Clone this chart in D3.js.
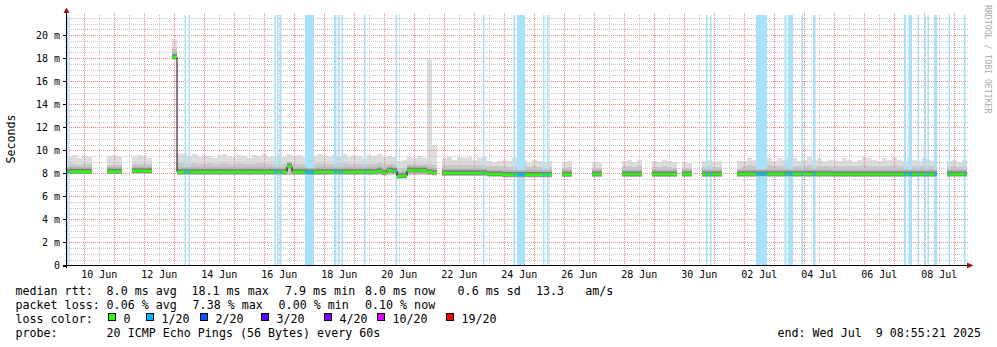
<!DOCTYPE html>
<html><head><meta charset="utf-8">
<script src="https://cdn.jsdelivr.net/npm/d3@7"></script>
<style>
body{margin:0;background:#fff}
svg text{font-family:"DejaVu Sans Mono",monospace;white-space:pre}
</style>
</head><body>
<svg id="c" width="997" height="347"></svg>
<script>
// ---------------- DATA ----------------
const T0 = "2025-06-09T10:10:00Z";
const T1 = "2025-07-09T10:10:00Z";
const stepHours = 4; // one sample per 4 hours, 180 samples

const medianRtt = [
 8.15,8.15,8.15,8.15,8.15, null,null,null, 8.15,8.15,8.15, null,null, 8.2,8.2,8.2,8.2, null,null,null,null, 18.1,
 8.12,8.12,8.12,8.12,8.12,8.12,8.12,8.12,8.12,8.12, 8.12,8.12,8.12,8.12,8.12,8.12,8.12,8.12,8.12,8.12, 8.12,8.12,
 8.6, 8.12,8.12,8.12, 8.08,8.08,
 8.12,8.12,8.12,8.12,8.12,8.12,8.12,8.12,8.12,8.12,8.12,8.12,
 8.2,8.05,8.25,8.2,7.75,7.78,8.25,8.25,8.25,8.25,8.12,8.05,
 null,
 8.02,8.02,8.02,8.02,8.02,8.02,8.02,8.02,8.02, 7.93,7.93,7.93, 7.88,7.88,7.88,7.88,7.88,7.88,7.88,7.88,7.88,7.88,
 null,null, 7.9,7.9, null,null,null,null, 7.92,7.92, null,null,null,null, 7.92,7.92,7.92,7.92, null,null,
 7.92,7.92,7.92,7.92,7.92, null, 7.92,7.92, null,null, 7.92,7.92,7.92,7.92, null,null,null, 7.92,
 7.95,7.95,7.95,7.95,7.95,7.95,7.95,7.95,7.95,7.95,7.95,7.95,7.95,7.95,7.95,7.95,7.95,7.95,
 7.92,7.92,7.92,7.92,7.92,7.92,7.92,7.92,7.92,7.92,7.92,7.92,7.92,7.92,7.92,7.92,7.92,7.92,7.92,7.92,7.92,
 null,null, 7.92,7.92,7.92,7.92
];
const smokeTop = [
 9.4,9.6,9.3,9.5,9.4, null,null,null, 9.5,9.6,9.4, null,null, 9.4,9.6,9.5,9.3, null,null,null,null, 19.7,
 9.8,9.7,9.5,9.7,9.4,9.6,9.5,9.3,9.6,9.7,
 9.5,9.4,9.6,9.5,9.3,9.6,9.5,9.7,9.4,9.5,
 9.6,9.4,9.7,9.5,9.6,9.4,9.6,9.5,9.7,9.5,
 9.4,9.6,9.5,9.7,9.4,9.6,9.5,9.3,9.6,9.5,
 9.7,9.4,9.5,9.4,9.1,9.2,9.4,9.3,9.5,9.3,
 17.8,10.5,
 null,
 9.3,9.4,9.2,9.4,9.3,9.4,9.2,9.3,9.4,9.1,9.0,9.1,9.2,9.1,9.3,9.1,9.2,9.0,9.2,9.1,9.0,9.1,
 null,null, 9.0,9.1, null,null,null,null, 9.0,8.9, null,null,null,null, 9.1,9.2,9.0,9.2, null,null,
 9.1,9.0,9.2,9.1,9.0, null, 9.0,8.9, null,null, 9.1,9.2,9.0,9.1, null,null,null, 9.1,
 9.1,9.3,9.2,9.4,9.2,9.3,9.1,9.3,9.2,9.4,9.3,9.1,9.2,9.4,9.2,9.3,9.1,9.2,
 9.2,9.1,9.3,9.2,9.0,9.2,9.4,9.3,9.2,9.1,9.3,9.2,9.4,9.2,9.1,9.3,9.2,9.1,9.3,9.2,9.1,
 null,null, 9.1,9.2,9.0,9.2
];
const smokeMid = [
 8.8,8.85,8.75,8.8,8.8, null,null,null, 8.7,8.75,8.7, null,null, 8.8,8.85,8.8,8.8, null,null,null,null, 18.8,
 8.95,8.9,8.85,8.9,8.8,8.85,8.9,8.8,8.85,8.9,
 8.85,8.8,8.9,8.85,8.8,8.85,8.9,8.9,8.8,8.85,
 8.85,8.8,8.9,8.85,8.85,8.8,8.85,8.85,8.9,8.85,
 8.8,8.85,8.9,8.9,8.8,8.85,8.85,8.8,8.85,8.85,
 8.9,8.8,8.85,8.8,8.5,8.5,8.8,8.8,8.85,8.8,
 8.8,8.7,
 null,
 8.7,8.75,8.7,8.75,8.7,8.75,8.7,8.7,8.75,8.6,8.6,8.6,
 8.6,8.55,8.6,8.55,8.6,8.55,8.6,8.55,8.5,8.55,
 null,null, 8.5,8.55, null,null,null,null, 8.5,8.5, null,null,null,null, 8.6,8.6,8.55,8.6, null,null,
 8.55,8.55,8.6,8.55,8.5, null, 8.5,8.5, null,null, 8.55,8.6,8.55,8.55, null,null,null, 8.4,
 8.6,8.7,8.65,8.7,8.65,8.7,8.6,8.65,8.65,8.7,8.65,8.6,8.65,8.7,8.65,8.65,8.6,8.65,
 8.65,8.6,8.65,8.65,8.6,8.65,8.7,8.65,8.65,8.6,8.65,8.65,8.7,8.65,8.6,8.65,8.65,8.6,8.65,8.65,8.6,
 null,null, 8.6,8.6,8.55,8.6
];
const smokeLow = [
 7.95,7.95,7.95,7.95,7.95, null,null,null, 7.95,7.95,7.95, null,null, 8.0,8.0,8.0,8.0, null,null,null,null, 17.9,
 7.9,7.9,7.9,7.9,7.9,7.9,7.9,7.9,7.9,7.9,
 7.9,7.9,7.9,7.9,7.9,7.9,7.9,7.9,7.9,7.9,
 7.9,7.9,7.9,7.9,7.9,7.9,7.9,7.9,7.9,7.9,
 7.9,7.9,7.9,7.9,7.9,7.9,7.9,7.9,7.9,7.9,
 7.9,7.9,7.9,7.9,7.6,7.62,7.9,7.9,7.9,7.9,
 7.9,7.9,
 null,
 7.75,7.75,7.75,7.75,7.75,7.75,7.75,7.75,7.75,7.75,7.75,7.75,
 7.68,7.68,7.68,7.68,7.68,7.68,7.68,7.68,7.68,7.68,
 null,null, 7.7,7.7, null,null,null,null, 7.72,7.72, null,null,null,null, 7.72,7.72,7.72,7.72, null,null,
 7.72,7.72,7.72,7.72,7.72, null, 7.75,7.75, null,null, 7.72,7.72,7.72,7.72, null,null,null, 7.8,
 7.72,7.72,7.72,7.72,7.72,7.72,7.72,7.72,7.72,7.72,7.72,7.72,7.72,7.72,7.72,7.72,7.72,7.72,
 7.72,7.72,7.72,7.72,7.72,7.72,7.72,7.72,7.72,7.72,7.72,7.72,7.72,7.72,7.72,7.72,7.72,7.72,7.72,7.72,7.72,
 null,null, 7.75,7.75,7.75,7.75
];
// periods with packet loss: [start, end, lost pings out of 20]
const lossEvents = [
 ["2025-06-09T10:10Z","2025-06-09T11:22Z",1],
 ["2025-06-13T08:10Z","2025-06-13T09:22Z",1],
 ["2025-06-13T11:22Z","2025-06-13T12:34Z",1],
 ["2025-06-16T08:10Z","2025-06-16T09:22Z",1],
 ["2025-06-16T10:10Z","2025-06-16T11:22Z",1],
 ["2025-06-16T12:34Z","2025-06-16T13:46Z",1],
 ["2025-06-17T08:34Z","2025-06-17T15:46Z",1],
 ["2025-06-18T07:46Z","2025-06-18T09:46Z",1],
 ["2025-06-18T10:58Z","2025-06-18T12:10Z",1],
 ["2025-06-18T13:46Z","2025-06-18T14:58Z",1],
 ["2025-06-19T07:46Z","2025-06-19T08:58Z",1],
 ["2025-06-20T08:58Z","2025-06-20T10:10Z",1],
 ["2025-06-23T06:58Z","2025-06-23T08:10Z",1],
 ["2025-06-24T07:22Z","2025-06-24T08:34Z",1],
 ["2025-06-24T10:10Z","2025-06-24T16:34Z",1],
 ["2025-06-25T06:58Z","2025-06-25T08:10Z",1],
 ["2025-06-25T10:10Z","2025-06-25T11:22Z",1],
 ["2025-06-30T17:22Z","2025-06-30T18:34Z",1],
 ["2025-06-30T20:34Z","2025-06-30T21:46Z",1],
 ["2025-07-02T09:22Z","2025-07-02T18:10Z",1],
 ["2025-07-03T08:10Z","2025-07-03T09:46Z",1],
 ["2025-07-03T10:58Z","2025-07-03T14:58Z",1],
 ["2025-07-03T21:46Z","2025-07-03T22:58Z",1],
 ["2025-07-04T06:58Z","2025-07-04T08:58Z",1],
 ["2025-07-07T07:46Z","2025-07-07T09:22Z",1],
 ["2025-07-07T11:22Z","2025-07-07T14:10Z",1],
 ["2025-07-07T18:34Z","2025-07-07T19:46Z",1],
 ["2025-07-08T00:10Z","2025-07-08T01:22Z",1],
 ["2025-07-08T02:34Z","2025-07-08T03:46Z",1],
 ["2025-07-08T07:46Z","2025-07-08T10:10Z",1],
 ["2025-07-08T19:22Z","2025-07-08T20:34Z",1],
 ["2025-07-09T07:46Z","2025-07-09T08:58Z",1]
];
const lossLevels = [0,1,2,3,4,10,19];
const lossLabels = ["0","1/20","2/20","3/20","4/20","10/20","19/20"];
const lossColors = ["#26ff00","#00b8ff","#0059ff","#5e00ff","#7e00ff","#dd00ff","#ff0000"];
const yTicks = [0,2,4,6,8,10,12,14,16,18,20];
const xLabelDays = ["2025-06-10","2025-06-12","2025-06-14","2025-06-16","2025-06-18","2025-06-20","2025-06-22",
 "2025-06-24","2025-06-26","2025-06-28","2025-06-30","2025-07-02","2025-07-04","2025-07-06","2025-07-08"];
const rttStats = [8.0, 18.1, 7.9, 8.0, 0.6];
const rttStatNames = ["avg","max","min","now","sd"];
const ampsValue = 13.3;
const lossStats = [0.06, 7.38, 0.00, 0.10];
const lossStatNames = ["avg","max","min","now"];
const probeText = "20 ICMP Echo Pings (56 Bytes) every 60s";
const endText = "end: Wed Jul  9 08:55:21 2025";

// ---------------- DRAW ----------------
const svg = d3.select("#c");
const FONT = 11.67, SMALL = 10;
const x = d3.scaleUtc().domain([new Date(T0), new Date(T1)]).range([67, 967]);
const y = d3.scaleLinear().domain([0, 21.75]).range([265.5, 15]);
const stepMs = stepHours * 3600e3, t0 = new Date(T0);

const cells = medianRtt.map((m, k) => ({
  k, a: new Date(+t0 + k * stepMs), b: new Date(+t0 + (k + 1) * stepMs),
  med: m, top: smokeTop[k], mid: smokeMid[k], lo: smokeLow[k]
})).filter(d => d.med != null);

// smoke
const gS1 = svg.append("g").attr("shape-rendering", "crispEdges");
gS1.selectAll("rect").data(cells).join("rect")
  .attr("x", d => x(d.a)).attr("width", d => x(d.b) - x(d.a))
  .attr("y", d => y(d.top)).attr("height", d => y(d.lo) - y(d.top)).attr("fill", "#dddddd");
const gS2 = svg.append("g").attr("shape-rendering", "crispEdges");
gS2.selectAll("rect").data(cells).join("rect")
  .attr("x", d => x(d.a)).attr("width", d => x(d.b) - x(d.a))
  .attr("y", d => y(d.mid)).attr("height", d => y(d.lo) - y(d.mid)).attr("fill", "#c8c8c8");

// grid
const gG = svg.append("g").attr("shape-rendering", "crispEdges").attr("stroke-dasharray", "1,1");
const minorY = d3.range(0.5, 21.75, 0.5).filter(v => v % 2 !== 0);
gG.selectAll("line.my").data(minorY).join("line").attr("class", "my")
  .attr("x1", 65).attr("x2", 968).attr("y1", d => Math.round(y(d)) + 0.5).attr("y2", d => Math.round(y(d)) + 0.5)
  .attr("stroke", "#c8c8c8");
const noonTicks = d3.utcHour.range(x.domain()[0], x.domain()[1]).filter(d => d.getUTCHours() === 12);
gG.selectAll("line.mx").data(noonTicks).join("line").attr("class", "mx")
  .attr("x1", d => Math.round(x(d)) + 0.5).attr("x2", d => Math.round(x(d)) + 0.5).attr("y1", 15).attr("y2", 265)
  .attr("stroke", "#c8c8c8");
gG.selectAll("line.My").data(yTicks.filter(v => v > 0)).join("line").attr("class", "My")
  .attr("x1", 67).attr("x2", 968).attr("y1", d => Math.round(y(d)) + 0.5).attr("y2", d => Math.round(y(d)) + 0.5)
  .attr("stroke", "#e88a8a");
const dayTicks = d3.utcDay.range(x.domain()[0], x.domain()[1]);
gG.selectAll("line.Mx").data(dayTicks).join("line").attr("class", "Mx")
  .attr("x1", d => Math.round(x(d)) + 0.5).attr("x2", d => Math.round(x(d)) + 0.5).attr("y1", 13).attr("y2", 265)
  .attr("stroke", "#e88a8a");

// loss stripes
const ev = lossEvents.map(e => ({a: new Date(e[0]), b: new Date(e[1]), loss: e[2]}));
svg.append("g").selectAll("rect").data(ev).join("rect")
  .attr("x", d => x(d.a)).attr("width", d => x(d.b) - x(d.a))
  .attr("y", 15).attr("height", 250).attr("fill", "#a9e1f8");

// median halo
const halo = (w, dy, col) => svg.append("g").selectAll("line").data(cells).join("line")
  .attr("x1", d => x(d.a)).attr("x2", d => x(d.b))
  .attr("y1", d => y(d.med) + dy).attr("y2", d => y(d.med) + dy)
  .attr("stroke", col).attr("stroke-width", w);
halo(7, -1, "#b2b2b2");
halo(4.5, -0.5, "#7e7e7e");

// black median trace
const p = d3.path();
cells.forEach((d, i) => {
  const prev = cells[i - 1];
  if (prev && prev.k === d.k - 1) p.lineTo(x(d.a), y(d.med)); else p.moveTo(x(d.a), y(d.med));
  p.lineTo(x(d.b), y(d.med));
});
svg.append("path").attr("d", p.toString()).attr("fill", "none").attr("stroke", "#000").attr("stroke-width", 1);

// coloured median by loss
const medLines = (g, col) => g.selectAll("line").data(cells).join("line")
  .attr("x1", d => x(d.a)).attr("x2", d => x(d.b))
  .attr("y1", d => y(d.med)).attr("y2", d => y(d.med))
  .attr("stroke", col).attr("stroke-width", 2.5);
medLines(svg.append("g"), lossColors[0]);
const defs = svg.append("defs");
d3.groups(ev, d => d.loss).forEach(([lvl, list]) => {
  const id = "loss" + lvl;
  defs.append("clipPath").attr("id", id).selectAll("rect").data(list).join("rect")
    .attr("x", d => x(d.a)).attr("width", d => x(d.b) - x(d.a)).attr("y", 0).attr("height", 347);
  const idx = lossLevels.indexOf(lvl);
  medLines(svg.append("g").attr("clip-path", `url(#${id})`), lossColors[idx]);
});

// axes
const gA = svg.append("g").attr("shape-rendering", "crispEdges");
gA.append("line").attr("x1", 63).attr("x2", 968).attr("y1", 265.5).attr("y2", 265.5).attr("stroke", "#000");
gA.append("line").attr("x1", 66.5).attr("x2", 66.5).attr("y1", 268).attr("y2", 12).attr("stroke", "#000");
gA.selectAll("line.t").data(yTicks).join("line").attr("class", "t")
  .attr("x1", 63).attr("x2", 66).attr("y1", d => Math.round(y(d)) + 0.5).attr("y2", d => Math.round(y(d)) + 0.5)
  .attr("stroke", "#000");
svg.append("path").attr("d", "M967,262.5L973.5,265.5L967,268.5Z").attr("fill", "#a01818");
svg.append("path").attr("d", "M63.5,13L66.5,7.5L69.5,13Z").attr("fill", "#a01818");

// y labels
svg.append("g").selectAll("text").data(yTicks).join("text")
  .attr("x", 60).attr("y", d => y(d) + 3.6).attr("text-anchor", "end")
  .attr("font-size", SMALL).text(d => d === 0 ? "0" : d + " m");
// x labels
const fmt = d3.utcFormat("%d %b");
svg.append("g").selectAll("text").data(xLabelDays).join("text")
  .attr("x", d => x(new Date(+new Date(d + "T00:00Z") + 12 * 3600e3))).attr("y", 278)
  .attr("text-anchor", "middle").attr("font-size", SMALL).text(d => fmt(new Date(d + "T00:00Z")));

// axis title
svg.append("text").attr("transform", "translate(15,139) rotate(-90)").attr("text-anchor", "middle")
  .attr("font-size", FONT).text("Seconds");
// watermark
svg.append("text").attr("transform", "translate(984.5,5) rotate(90)").attr("font-size", 8.2)
  .attr("fill", "#aaaaaa").text("RRDTOOL / TOBI OETIKER");

// legend
const txt = (s, xx, yy, anchor) => svg.append("text").attr("x", xx).attr("y", yy)
  .attr("xml:space", "preserve").attr("font-size", FONT).attr("text-anchor", anchor || "start").text(s);
const L1 = 295, L2 = 309, L3 = 322.5, L4 = 336.5;
txt("median rtt:", 15.5, L1);
const rttX = [106.6, 191.5, 285, 365, 457.6];
rttStats.forEach((v, i) => txt(v.toFixed(1) + " ms " + rttStatNames[i], rttX[i], L1));
txt(ampsValue.toFixed(1), 536, L1);
txt("am/s", 585.3, L1);
txt("packet loss:", 15.5, L2);
const lossX = [106.6, 192.6, 278.6, 365];
lossStats.forEach((v, i) => txt(v.toFixed(2) + " % " + lossStatNames[i], lossX[i], L2));
txt("loss color:", 15.5, L3);
const boxX = [108, 146, 200, 261, 324, 377, 446];
lossLevels.forEach((lv, i) => {
  svg.append("rect").attr("x", boxX[i] + 0.5).attr("y", 313.5).attr("width", 7).attr("height", 7)
    .attr("fill", lossColors[i]).attr("stroke", "#000").attr("stroke-width", 1);
  txt(lossLabels[i], boxX[i] + 15.5, L3);
});
txt("probe:", 15.5, L4);
txt(probeText, 106.6, L4);
txt(endText, 981, L4, "end");

if ([smokeTop, smokeMid, smokeLow].some(a => a.length !== medianRtt.length) || medianRtt.length !== 180)
  svg.append("text").attr("x", 300).attr("y", 100).attr("fill", "red")
    .text("LEN " + [medianRtt.length, smokeTop.length, smokeMid.length, smokeLow.length].join(","));
</script>
</body></html>
